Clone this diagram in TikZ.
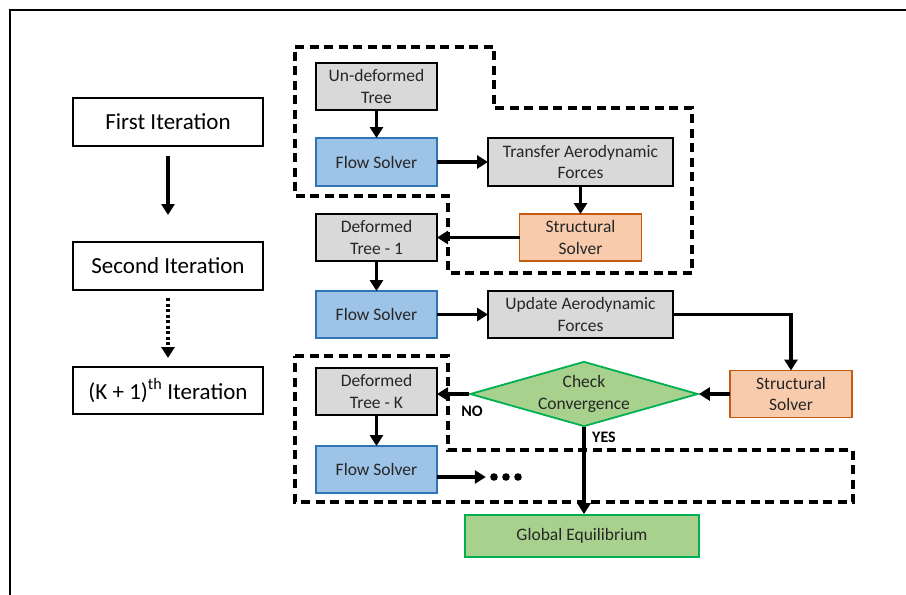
\documentclass[tikz,border=0pt]{standalone}
\usepackage{fontspec}
\setmainfont{Carlito}
\usepackage{tikz}
\usetikzlibrary{arrows.meta,positioning,shapes.geometric}

\definecolor{boxgray}{HTML}{D9D9D9}
\definecolor{flowfill}{HTML}{9DC3E6}
\definecolor{flowedge}{HTML}{2E75B6}
\definecolor{solvfill}{HTML}{F8CBAD}
\definecolor{solvedge}{HTML}{C55A11}
\definecolor{convfill}{HTML}{A9D18E}
\definecolor{convedge}{HTML}{00B050}
\definecolor{inktext}{HTML}{262626}

\tikzset{
  stepbox/.style={draw, line width=1.8pt, minimum width=121pt, minimum height=47pt,
    inner sep=0pt, outer sep=0pt, align=center, text=inktext,
    font=\fontsize{17.5}{21.5}\selectfont},
  tree/.style={stepbox, fill=boxgray},
  flow/.style={stepbox, fill=flowfill, draw=flowedge},
  solver/.style={stepbox, fill=solvfill, draw=solvedge, minimum width=122pt},
  forces/.style={stepbox, fill=boxgray, minimum width=185pt},
  iterbox/.style={draw, line width=2.4pt, minimum width=190pt, minimum height=48pt,
    inner sep=0pt, outer sep=0pt, font=\fontsize{23}{27}\selectfont},
  flowarrow/.style={-{Triangle[length=11pt,width=13pt]}, line width=3.2pt},
  region/.style={dash pattern=on 9pt off 5.5pt, line width=3.2pt},
  answer/.style={font=\fontsize{16}{19}\selectfont\bfseries}
}

\begin{document}
\begin{tikzpicture}[x=1pt, y=-1pt]
  \useasboundingbox (0,0) rectangle (906,595);
  % frame
  \draw[line width=2.2pt] (10,595) -- (10,10) -- (906,10);

  % iterations
  \node[iterbox] (first) at (168,122) {First Iteration};
  \node[iterbox] (second) [below = 96pt of first] {Second Iteration};
  \node[iterbox, minimum height=47pt] (kth) [below = 77pt of second] {(K + 1)\textsuperscript{th} Iteration};

  \draw[flowarrow, shorten <=10pt, shorten >=27pt] (first) -- (second);
  \draw[flowarrow, dash pattern=on 3pt off 2.5pt, shorten <=8pt, shorten >=9pt] (second) -- (kth);

  % first iteration
  \node[tree] (undef) at (376.5,86.5) {Un-deformed\\Tree};
  \node[flow, minimum height=48pt] (flowA) [below = 28pt of undef] {Flow Solver};
  \node[forces, minimum height=48pt] (transfer) [right = 51pt of flowA] {Transfer Aerodynamic\\Forces};
  \node[solver] (structA) [below = 28pt of transfer] {Structural\\Solver};
  \node[tree] (defA) [below = 28pt of flowA] {Deformed\\Tree - 1};

  % second iteration
  \node[flow] (flowB) [below = 30pt of defA] {Flow Solver};
  \node[forces] (update) [right = 51pt of flowB] {Update Aerodynamic\\Forces};
  \node[solver] (structB) at (791,394) {Structural\\Solver};
  \node[diamond, draw=convedge, fill=convfill, line width=1.8pt, inner sep=0pt, aspect=3.5,
    minimum width=228pt, minimum height=65pt] (check) at (584,394) {};
  \node[align=center, text=inktext, font=\fontsize{17.5}{21.5}\selectfont] (checktext) at (check) {Check\\Convergence};

  % k-th iteration
  \node[tree] (defK) [below = 30pt of flowB] {Deformed\\Tree - K};
  \node[flow] (flowC) [below = 31pt of defK] {Flow Solver};
  \node[inner sep=0pt, minimum width=36pt, minimum height=8pt] (dots) at (506,477) {};
  \foreach \dx in {-12,0,12}
    \fill (dots) ++(\dx,0) circle (3.8pt);

  \node[fill=convfill, draw=convedge, line width=1.8pt, minimum width=234pt, minimum height=42pt,
    inner sep=0pt, text=inktext, font=\fontsize{17.5}{21.5}\selectfont] (global) at (582,536) {Global Equilibrium};

  % regions
  \draw[region] (295,47) -- (494,47) -- (494,108) -- (692,108) -- (692,273)
    -- (448,273) -- (448,196) -- (295,196) -- cycle;
  \draw[region] (295,356) -- (448,356) -- (448,450) -- (853,450) -- (853,502)
    -- (295,502) -- cycle;

  % connectors
  \draw[flowarrow] (undef) -- (flowA);
  \draw[flowarrow] (flowA) -- (transfer);
  \draw[flowarrow] (transfer) -- (structA);
  \draw[flowarrow] (structA) -- (defA);
  \draw[flowarrow] (defA) -- (flowB);
  \draw[flowarrow] (flowB) -- (update);
  \draw[flowarrow] (update.east) -| (structB.north);
  \draw[flowarrow] (structB.west) -- (check.east);
  \draw[flowarrow] (check.west) -- (check.west -| defK.east);
  \draw[flowarrow] (check.south) -- (check.south |- global.north);
  \draw[flowarrow] (defK) -- (flowC);
  \draw[flowarrow, shorten >=2pt] (flowC.east |- dots) -- (dots.west);

  \node[answer] (no) at (472,411) {NO};
  \node[answer] (yes) at (604,437) {YES};
\end{tikzpicture}
\end{document}
